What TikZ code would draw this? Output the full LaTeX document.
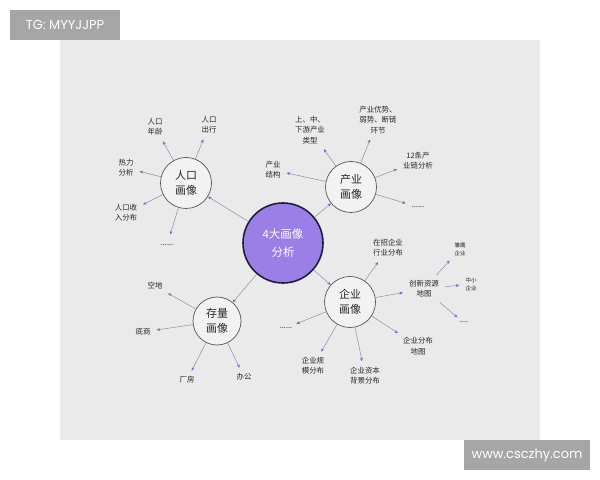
\documentclass[tikz,border=0pt]{standalone}
\usepackage{fontspec}
\setmainfont{Noto Sans CJK SC}
\newfontfamily\wmfont{Poppins}
\usetikzlibrary{arrows.meta}
\definecolor{panel}{HTML}{EAEAEA}
\definecolor{hubfill}{HTML}{9B7EE6}
\definecolor{hubline}{HTML}{221C3C}
\definecolor{satfill}{HTML}{F2F2F2}
\definecolor{satline}{HTML}{555555}
\definecolor{spoke}{HTML}{8C8CB4}
\definecolor{tipcol}{HTML}{6F68C8}
\definecolor{wm}{HTML}{A6A6A6}
\definecolor{ink}{HTML}{262626}
\begin{document}
\begin{tikzpicture}[
  hub/.style={draw=hubline,line width=1.6bp,fill=hubfill,circle,minimum size=80bp,inner sep=0pt,align=center,text=white,font=\fontsize{11.5}{17.5}\selectfont},
  sat/.style={draw=satline,line width=0.7bp,fill=satfill,circle,minimum size=51bp,inner sep=0pt,align=center,text=ink,font=\fontsize{11}{15}\selectfont},
  lbl/.style={align=center,text=ink,inner sep=2bp,font=\fontsize{7.5}{10.3}\selectfont},
  sublbl/.style={align=center,text=ink,inner sep=2bp,font=\fontsize{5.5}{8}\selectfont},
  more/.style={lbl,inner sep=6bp},
  wmbox/.style={fill=wm,text=white,inner sep=0pt,minimum height=30bp,font=\wmfont\fontsize{13}{15}\selectfont},
  tie/.style={draw=spoke,line width=0.5bp,-{Stealth[length=3.5bp,width=3bp,color=tipcol]}},
  spk/.style={tie,shorten >=4bp}
]
  \useasboundingbox (0bp,0bp) rectangle (600bp,480bp);
  \fill [panel] (60bp,40bp) rectangle (540bp,440bp);
  \node (TG) at (65bp,455bp) [wmbox,minimum width=110bp] {TG: MYYJJPP};
  \node (Web) at (527bp,25bp) [wmbox,minimum width=126bp] {www.csczhy.com};
  \node (M) at (283bp,237bp) [hub] {4大画像\\分析};
  \node (P) at (186bp,297bp) [sat] {人口\\画像};
  \node (I) at (351bp,293bp) [sat] {产业\\画像};
  \node (E) at (350bp,178bp) [sat] {企业\\画像};
  \node (S) at (217bp,159bp) [sat,minimum size=48bp] {存量\\画像};
  \node (P1) at (155bp,353bp) [lbl] {人口\\年龄};
  \node (P2) at (209bp,355bp) [lbl] {人口\\出行};
  \node (P3) at (126bp,312bp) [lbl] {热力\\分析};
  \node (P4) at (126bp,267bp) [lbl] {人口收\\入分布};
  \node (P5) at (167bp,235bp) [more] {......};
  \node (I1) at (273bp,310bp) [lbl] {产业\\结构};
  \node (I2) at (310bp,350bp) [lbl] {上、中、\\下游产业\\类型};
  \node (I3) at (378bp,360bp) [lbl] {产业优势、\\弱势、断链\\环节};
  \node (I4) at (418bp,319bp) [lbl] {12条产\\业链分析};
  \node (I5) at (418bp,273bp) [lbl] {......};
  \node (E1) at (388bp,232bp) [lbl] {在招企业\\行业分布};
  \node (E2) at (424bp,191bp) [lbl] {创新资源\\地图};
  \node (E3) at (418bp,134bp) [lbl] {企业分布\\地图};
  \node (E4) at (365bp,104bp) [lbl] {企业资本\\背景分布};
  \node (E5) at (313bp,114bp) [lbl] {企业规\\模分布};
  \node (E6) at (286bp,152bp) [lbl] {......};
  \node (E21) at (460bp,231bp) [sublbl] {雏鹰\\企业};
  \node (E22) at (471bp,196bp) [sublbl] {中小\\企业};
  \node (E23) at (464bp,157bp) [sublbl] {——};
  \node (S1) at (155bp,194bp) [lbl] {空地};
  \node (S2) at (143bp,148bp) [lbl] {底商};
  \node (S3) at (187bp,100bp) [lbl] {厂房};
  \node (S4) at (244bp,103bp) [lbl] {办公};
  \draw [tie] (M) -- (P);
  \draw [tie] (M) -- (I);
  \draw [tie] (M) -- (E);
  \draw [tie] (M) -- (S);
  \foreach \t in {P1,P2,P3,P4,P5}
    \draw [spk] (P) -- (\t);
  \foreach \t in {I1,I2,I3,I4,I5}
    \draw [spk] (I) -- (\t);
  \foreach \t in {E1,E2,E3,E4,E5,E6}
    \draw [spk] (E) -- (\t);
  \foreach \t in {S1,S2,S3,S4}
    \draw [spk] (S) -- (\t);
  \foreach \t in {E21,E22,E23}
    \draw [spk,shorten <=4bp] (E2) -- (\t);
\end{tikzpicture}
\end{document}
